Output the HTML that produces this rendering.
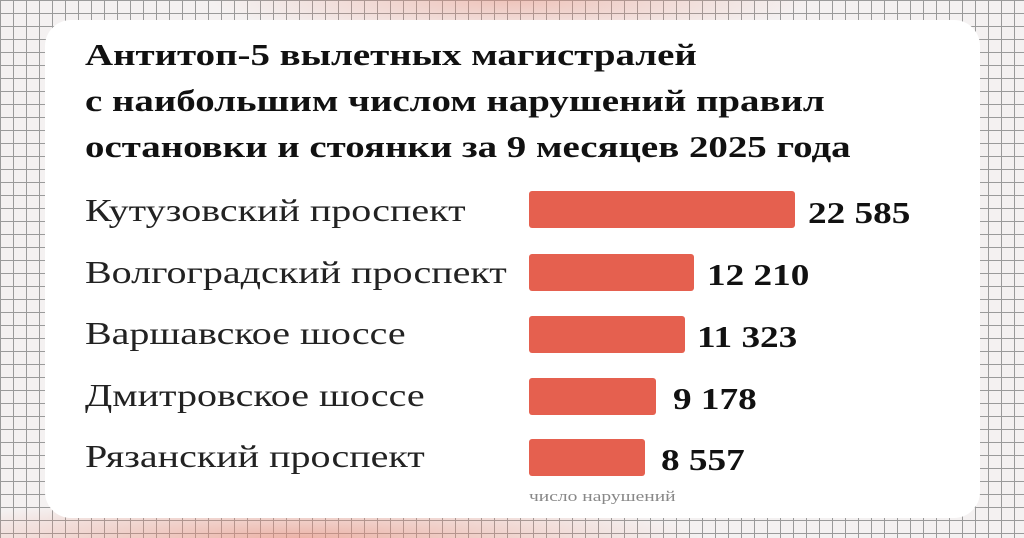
<!DOCTYPE html>
<html><head><meta charset="utf-8"><style>
body{margin:0;width:1024px;height:538px;overflow:hidden;position:relative;
background-color:#f4f1f1;
background-image:
radial-gradient(ellipse 300px 40px at 512px 0px, rgba(232,140,120,.45), rgba(232,140,120,0)),
radial-gradient(ellipse 400px 40px at 300px 538px, rgba(232,140,120,.6), rgba(232,140,120,0)),
linear-gradient(#9a9a9a 1px, transparent 1px),
linear-gradient(90deg,#9a9a9a 1px, transparent 1px);
background-size:100% 100%,100% 100%,13px 13px,13px 13px;
font-family:"Liberation Serif",serif;}
.card{position:absolute;left:45px;top:20px;width:935px;height:498px;background:#fff;border-radius:26px;}
.t{position:absolute;left:85px;top:32px;font-size:31px;font-weight:bold;line-height:46px;color:#111;transform:scaleX(1.255);transform-origin:0 0;white-space:nowrap;}
.l{position:absolute;left:85px;font-size:32px;color:#222;transform:scaleX(1.25);transform-origin:0 0;white-space:nowrap;}
.b{position:absolute;left:529px;height:37px;background:#e5604f;border-radius:3px;}
.n{position:absolute;font-size:31px;font-weight:bold;color:#111;transform:scaleX(1.2);transform-origin:0 0;white-space:nowrap;}
.f{position:absolute;left:529px;top:489px;font-size:15px;color:#888;transform:scaleX(1.3);transform-origin:0 0;white-space:nowrap;}
</style></head><body>
<div class="card"></div>
<div class="t">Антитоп-5 вылетных магистралей<br>с наибольшим числом нарушений правил<br>остановки и стоянки за 9 месяцев 2025 года</div>
<div class="l" style="top:192px">Кутузовский проспект</div>
<div class="l" style="top:254px">Волгоградский проспект</div>
<div class="l" style="top:315px">Варшавское шоссе</div>
<div class="l" style="top:377px">Дмитровское шоссе</div>
<div class="l" style="top:438px">Рязанский проспект</div>
<div class="b" style="top:191px;width:266px"></div>
<div class="b" style="top:254px;width:165px"></div>
<div class="b" style="top:316px;width:156px"></div>
<div class="b" style="top:378px;width:127px"></div>
<div class="b" style="top:439px;width:116px"></div>
<div class="n" style="left:808px;top:195px">22 585</div>
<div class="n" style="left:707px;top:257px">12 210</div>
<div class="n" style="left:697px;top:319px">11 323</div>
<div class="n" style="left:673px;top:381px">9 178</div>
<div class="n" style="left:661px;top:442px">8 557</div>
<div class="f">число нарушений</div>
</body></html>
